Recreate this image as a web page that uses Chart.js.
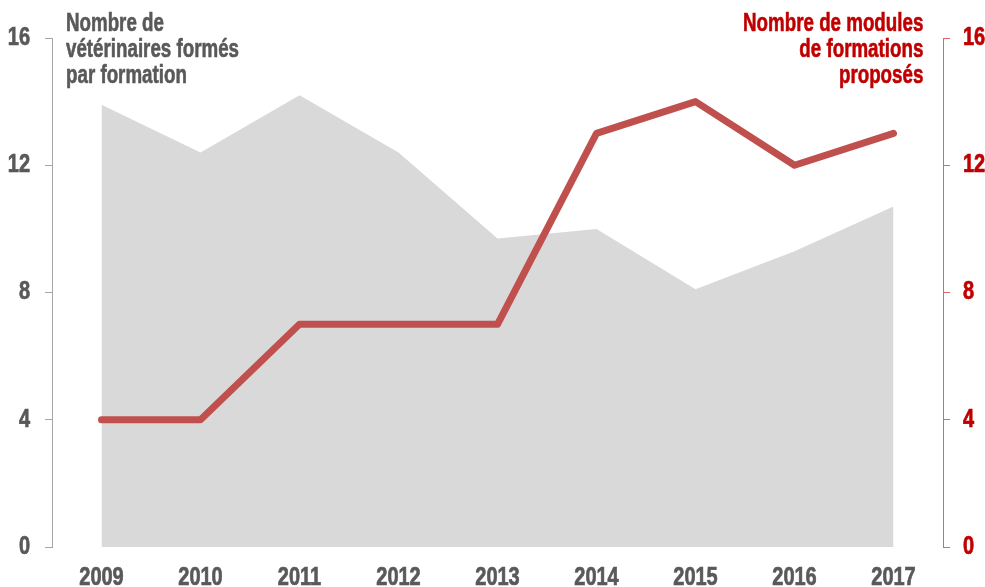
<!DOCTYPE html>
<html>
<head>
<meta charset="utf-8">
<script src="https://cdn.jsdelivr.net/npm/chart.js@4/dist/chart.umd.min.js"></script>
<style>
  html, body { margin: 0; padding: 0; background: #fff; }
  #wrap { position: relative; width: 985px; height: 587px; overflow: hidden; }
  canvas { position: absolute; left: 0; top: 0; }
  .ttl { position: absolute; font-family: "Liberation Sans", Arial, sans-serif; font-weight: bold; font-size: 25px; line-height: 26px; white-space: nowrap; -webkit-text-stroke: 0.6px currentColor; }
  #tl { left: 66px; top: 9px; color: #595959; text-align: left; transform: scaleX(0.75); transform-origin: left top; }
  #tr { right: 62px; top: 9px; color: #C00000; text-align: right; transform: scaleX(0.75); transform-origin: right top; }
</style>
</head>
<body>
<div id="wrap">
  <canvas id="c" width="985" height="587"></canvas>
  <div class="ttl" id="tl">Nombre de<br>vétérinaires formés<br>par formation</div>
  <div class="ttl" id="tr">Nombre de modules<br>de formations<br>proposés</div>
</div>
<script>
const years = ["2009","2010","2011","2012","2013","2014","2015","2016","2017"];
const veterinairesParFormation = [13.9, 12.4, 14.2, 12.4, 9.7, 10.0, 8.1, 9.3, 10.7];
const modulesProposes = [4, 4, 7, 7, 7, 13, 14, 12, 13];
const axisTicks = [0, 4, 8, 12, 16];

const FONT = '"Liberation Sans", Arial, sans-serif';
const GRAY = '#595959';
const RED = '#C00000';
const SQUEEZE = 0.8;

// Draw the library's own tick label items with a horizontal condensation
function condensedLabels(scale) {
  scale.drawLabels = function (chartArea) {
    if (!this.options.ticks.display) return;
    const ctx = this.ctx;
    const items = this.getLabelItems(chartArea);
    for (const item of items) {
      const o = item.options;
      ctx.save();
      ctx.translate(o.translation[0], o.translation[1]);
      ctx.scale(SQUEEZE, 1);
      ctx.font = item.font.string;
      ctx.fillStyle = o.color;
      ctx.strokeStyle = o.color;
      ctx.lineWidth = 0.7;
      ctx.textAlign = o.textAlign;
      ctx.textBaseline = o.textBaseline;
      ctx.fillText(item.label, 0, item.textOffset);
      ctx.strokeText(item.label, 0, item.textOffset);
      ctx.restore();
    }
  };
}

new Chart(document.getElementById('c'), {
  type: 'line',
  data: {
    labels: years,
    datasets: [
      {
        label: 'Nombre de modules de formations proposés',
        data: modulesProposes,
        yAxisID: 'y1',
        borderColor: '#C0504D',
        borderWidth: 7,
        borderCapStyle: 'round',
        borderJoinStyle: 'round',
        fill: false,
        pointRadius: 0,
        tension: 0
      },
      {
        label: 'Nombre de vétérinaires formés par formation',
        data: veterinairesParFormation,
        yAxisID: 'y',
        backgroundColor: '#D9D9D9',
        borderWidth: 0,
        borderColor: 'rgba(0,0,0,0)',
        fill: 'origin',
        pointRadius: 0,
        tension: 0
      }
    ]
  },
  options: {
    responsive: false,
    devicePixelRatio: 1,
    animation: false,
    layout: { padding: { top: 38, left: 0, right: 0, bottom: 0 } },
    plugins: { legend: { display: false }, tooltip: { enabled: false } },
    scales: {
      x: {
        type: 'category',
        offset: true,
        grid: { display: false, drawTicks: false },
        border: { display: false },
        ticks: { color: GRAY, font: { family: FONT, size: 25, weight: 'bold' }, padding: 16, maxRotation: 0, autoSkip: false },
        afterFit: s => { s.height = 40; condensedLabels(s); }
      },
      y: {
        position: 'left',
        min: 0, max: 16,
        afterBuildTicks: s => { s.ticks = axisTicks.map(v => ({ value: v })); },
        grid: { drawOnChartArea: false, color: '#A6A6A6', tickLength: 7, lineWidth: 1 },
        border: { display: true, color: '#A6A6A6', width: 1 },
        ticks: { color: GRAY, font: { family: FONT, size: 25, weight: 'bold' }, padding: 15 },
        afterFit: s => { s.width = 52; condensedLabels(s); }
      },
      y1: {
        position: 'right',
        min: 0, max: 16,
        afterBuildTicks: s => { s.ticks = axisTicks.map(v => ({ value: v })); },
        grid: { drawOnChartArea: false, color: '#E06666', tickLength: 7, lineWidth: 1 },
        border: { display: true, color: '#E06666', width: 1 },
        ticks: { color: RED, font: { family: FONT, size: 25, weight: 'bold' }, padding: 13 },
        afterFit: s => { s.width = 42; condensedLabels(s); }
      }
    }
  }
});
</script>
</body>
</html>
